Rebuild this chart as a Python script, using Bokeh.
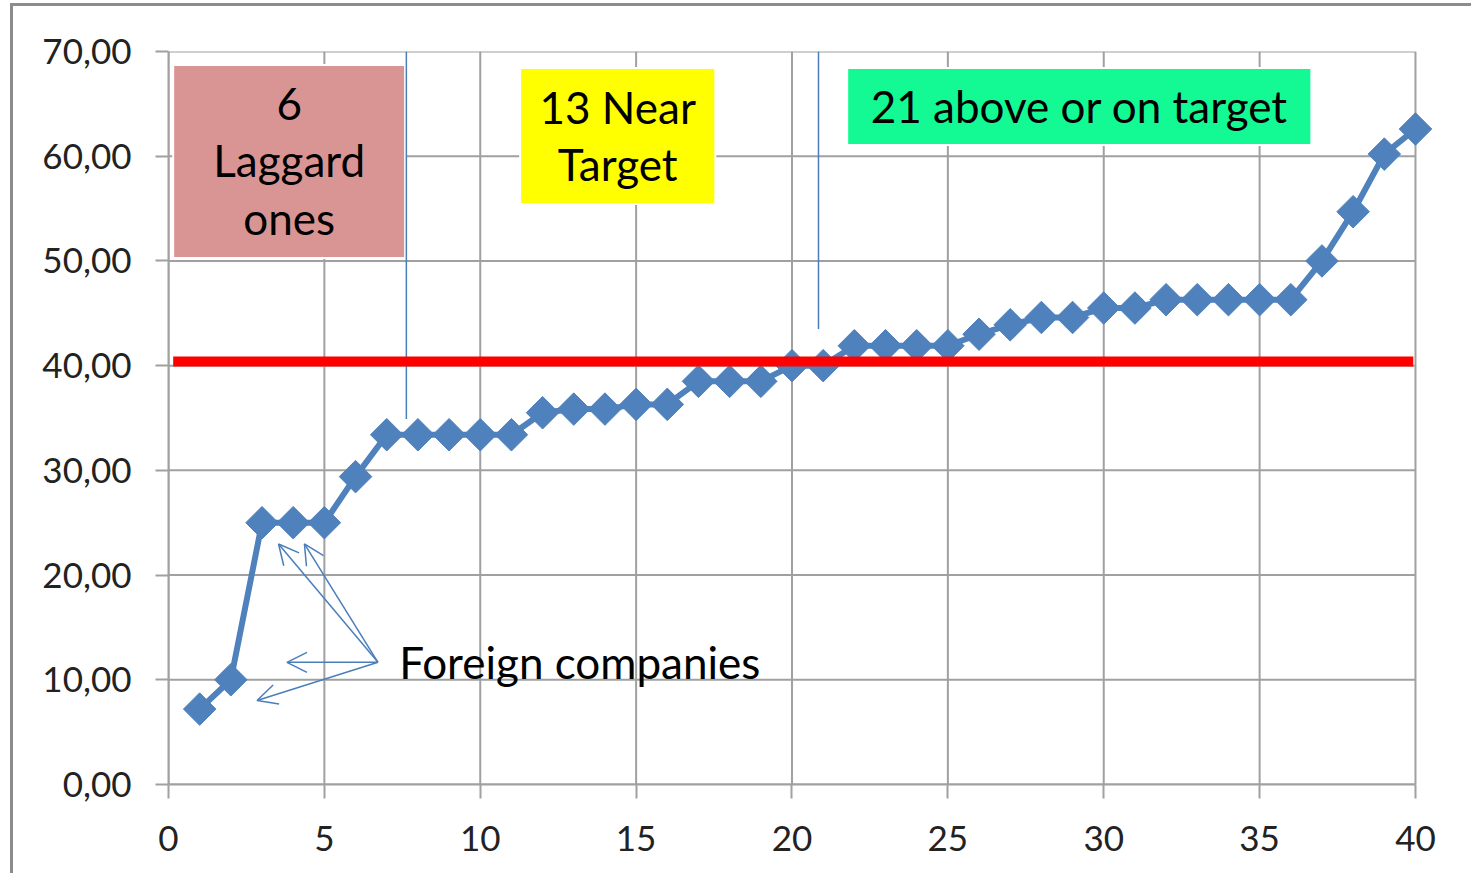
from bokeh.plotting import figure
from bokeh.models import Range1d, FixedTicker, Arrow, OpenHead, ColumnDataSource
from bokeh.core.properties import value
from bokeh.embed import file_html
from bokeh.resources import INLINE

# ---------------- data ----------------
companies = list(range(1, 41))
scores = [7.2, 10.0, 25.0, 25.0, 25.0, 29.4,
          33.4, 33.4, 33.4, 33.4, 33.4,
          35.5, 35.85, 35.85, 36.3, 36.3,
          38.5, 38.5, 38.5, 40.0, 40.0,
          41.9, 41.9, 41.9, 41.9, 43.0, 43.9, 44.6, 44.6,
          45.5, 45.5, 46.3, 46.3, 46.3, 46.3, 46.3,
          50.0, 54.7, 60.2, 62.6]
target = 40.4
target_x = [0.15, 39.93]

x_ticks = [0, 5, 10, 15, 20, 25, 30, 35, 40]
y_ticks = [0, 10, 20, 30, 40, 50, 60, 70]
y_tick_labels = ["0,00", "10,00", "20,00", "30,00", "40,00", "50,00", "60,00", "70,00"]

# group boxes (left, right, bottom, top) and their labels
box_left = [0.15, 11.28, 21.77]
box_right = [7.59, 17.54, 36.66]
box_bottom = [50.29, 55.44, 61.07]
box_top = [68.7, 68.42, 68.42]
box_colors = ["#d99594", "#ffff00", "#13fa94"]

label_x = [3.87, 3.87, 3.87, 14.41, 14.41, 29.22]
label_y = [65.0, 59.6, 54.1, 64.7, 59.3, 64.75]
label_text = ["6", "Laggard", "ones", "13 Near", "Target", "21 above or on target"]

# divider lines
div_x = [7.63, 20.85]
div_y0 = [34.9, 43.5]
div_y1 = [70, 70]

# arrows for foreign companies
arrow_x_start = [6.72, 6.72, 6.72, 6.72]
arrow_y_start = [11.67, 11.67, 11.67, 11.67]
arrow_x_end = [3.53, 4.36, 3.80, 2.84]
arrow_y_end = [22.97, 22.97, 11.67, 8.02]
foreign_x = [7.40]
foreign_y = [11.7]
foreign_text = ["Foreign companies"]

# ---------------- figure ----------------
FONT = "Lato"
BLUE = "#4f81bd"
GRID = "#a0a0a0"
X_MAX, Y_MAX = 40, 70

p = figure(width=1461, height=870, output_backend="svg", toolbar_location=None,
           x_range=Range1d(0, 40.61), y_range=Range1d(0, 70),
           min_border_left=155, min_border_right=40, min_border_top=45, min_border_bottom=92,
           background_fill_color="white", border_fill_color="white",
           outline_line_color=None,
           styles={"border-left": "3px solid #8c8c8c", "border-top": "3px solid #8c8c8c",
                   "margin-left": "10px", "margin-top": "3px"})

for ax in (p.xaxis[0], p.yaxis[0]):
    ax.axis_line_color = GRID
    ax.axis_line_width = 2
    ax.major_tick_line_color = GRID
    ax.major_tick_line_width = 2
    ax.major_tick_in = 0
    ax.minor_tick_line_color = None
    ax.major_label_text_font = FONT
    ax.major_label_text_font_size = "35px"
    ax.major_label_text_color = "#222222"

p.xaxis.ticker = FixedTicker(ticks=x_ticks)
p.yaxis.ticker = FixedTicker(ticks=y_ticks)
p.xaxis.bounds = (0, X_MAX)
p.yaxis.bounds = (0, Y_MAX)
p.yaxis.major_label_overrides = {t: l for t, l in zip(y_ticks, y_tick_labels)}
p.xaxis.major_tick_out = 14
p.yaxis.major_tick_out = 13
p.yaxis.major_label_standoff = 24
p.xaxis.major_label_standoff = 27
p.grid.visible = False

# grid lines drawn from the tick lists
p.segment(x0=[0] * len(y_ticks), x1=[X_MAX] * len(y_ticks), y0=y_ticks, y1=y_ticks,
          line_color=GRID, line_width=2)
p.segment(x0=x_ticks, x1=x_ticks, y0=[0] * len(x_ticks), y1=[Y_MAX] * len(x_ticks),
          line_color=GRID, line_width=2)

# group boxes
p.quad(left=box_left, right=box_right, bottom=box_bottom, top=box_top,
       fill_color=box_colors, line_color="white", line_width=2)

p.text(x=label_x, y=label_y, text=label_text, text_font=value(FONT),
       text_font_size="44px", text_align="center", text_baseline="alphabetic",
       text_color="black")

# divider lines
p.segment(x0=div_x, y0=div_y0, x1=div_x, y1=div_y1, line_color="#4a7ebb", line_width=1.5)

# data series
p.line(companies, scores, line_color=BLUE, line_width=6)
p.scatter(companies, scores, marker="square", size=23, angle=0.785398,
          fill_color=BLUE, line_color=BLUE)

# target line
p.line(target_x, [target, target], line_color="#ff0000", line_width=10)

# arrows
arrow_src = ColumnDataSource(dict(xs=arrow_x_start, ys=arrow_y_start,
                                  xe=arrow_x_end, ye=arrow_y_end))
p.add_layout(Arrow(end=OpenHead(size=20, line_color="#4a7ebb", line_width=1.5),
                   x_start="xs", y_start="ys", x_end="xe", y_end="ye",
                   source=arrow_src, line_color="#4a7ebb", line_width=1.5))

p.text(x=foreign_x, y=foreign_y, text=foreign_text, text_font=value(FONT),
       text_font_size="44px", text_align="left", text_baseline="middle",
       text_color="black")

open("out.html", "w").write(file_html(p, INLINE))
